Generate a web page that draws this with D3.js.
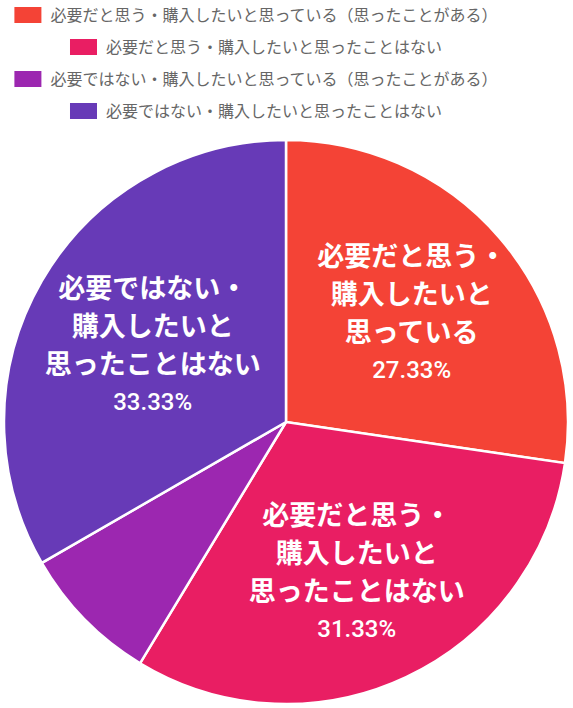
<!DOCTYPE html>
<html>
<head>
<meta charset="utf-8">
<script src="https://cdn.jsdelivr.net/npm/d3@7"></script>
<style>
  body { margin: 0; background: #fff; }
  svg { display: block; font-family: "Noto Sans CJK JP", "Noto Sans", sans-serif; }
</style>
</head>
<body>
<div id="chart"></div>
<script>
// Data
const categories = [
    "必要だと思う・購入したいと思っている（思ったことがある）",
    "必要だと思う・購入したいと思ったことはない",
    "必要ではない・購入したいと思っている（思ったことがある）",
    "必要ではない・購入したいと思ったことはない"
];
const values = [27.33, 31.33, 8.01, 33.33];
const colors = ["#F44336", "#E91E63", "#9C27B0", "#673AB7"];
// in-slice labels (null = no label shown)
const sliceLabels = [
    ["必要だと思う・", "購入したいと", "思っている"],
    ["必要だと思う・", "購入したいと", "思ったことはない"],
    null,
    ["必要ではない・", "購入したいと", "思ったことはない"]
];

function drawChart() {
    const width = 573;
    const height = 708;
    const cx = 286, cy = 422, radius = 282;
    const labelRadius = [166, 166, 0, 154];

    const svg = d3.select("#chart")
        .append("svg")
        .attr("width", width)
        .attr("height", height);

    // Legend: rows centered, box + text
    const legend = svg.append("g");
    categories.forEach((c, i) => {
        const row = legend.append("g");
        row.append("rect")
            .attr("width", 27)
            .attr("height", 16)
            .attr("fill", colors[i]);
        const t = row.append("text")
            .attr("x", 36)
            .attr("y", 8)
            .attr("dy", "0.35em")
            .attr("font-size", 16)
            .attr("fill", "#666")
            .text(c);
        const w = 36 + t.node().getComputedTextLength();
        row.attr("transform", `translate(${256 - w / 2},${7 + i * 32})`);
    });

    const pie = d3.pie().sort(null).value(d => d);
    const arcs = pie(values);

    const arc = d3.arc().innerRadius(0).outerRadius(radius);

    const g = svg.append("g")
        .attr("transform", `translate(${cx},${cy})`);

    g.selectAll("path")
        .data(arcs)
        .enter()
        .append("path")
        .attr("d", arc)
        .attr("fill", (d, i) => colors[i])
        .attr("stroke", "#fff")
        .attr("stroke-width", 2.5);

    arcs.forEach((d, i) => {
        if (!sliceLabels[i]) return;
        const r = labelRadius[i];
        const [x, y] = d3.arc().innerRadius(r).outerRadius(r).centroid(d);
        const lines = sliceLabels[i];
        const lh = 38;
        const pctGap = 37;
        const top = y - ((lines.length - 1) * lh + pctGap) / 2;
        const txt = g.append("text")
            .attr("text-anchor", "middle")
            .attr("fill", "#fff")
            .attr("font-weight", "bold");
        lines.forEach((l, j) => {
            txt.append("tspan")
                .attr("x", x)
                .attr("y", top + j * lh)
                .attr("dy", "0.35em")
                .attr("font-size", 27)
                .text(l);
        });
        txt.append("tspan")
            .attr("x", x)
            .attr("y", top + (lines.length - 1) * lh + pctGap)
            .attr("dy", "0.35em")
            .attr("font-size", 24)
            .attr("font-weight", 500)
            .attr("font-family", "Roboto, 'Noto Sans', sans-serif")
            .text(values[i].toFixed(2) + "%");
    });
}

document.addEventListener("DOMContentLoaded", drawChart);
</script>
</body>
</html>
